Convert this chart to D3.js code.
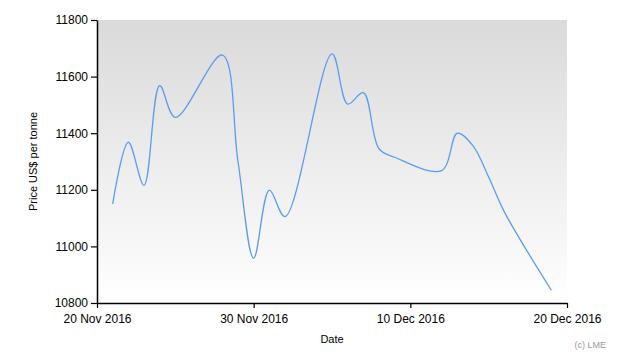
<!DOCTYPE html>
<html>
<head>
<meta charset="utf-8">
<script src="https://cdn.jsdelivr.net/npm/d3@7"></script>
<style>
  html, body { margin: 0; padding: 0; background: #ffffff; }
  svg { display: block; font-family: "Liberation Sans", Arial, sans-serif; }
</style>
</head>
<body>
<svg id="chart" width="630" height="360"></svg>
<script>
// Data (LME trading days)
const dates = [
  "2016-11-21","2016-11-22","2016-11-23","2016-11-24","2016-11-25",
  "2016-11-28","2016-11-29","2016-11-30","2016-12-01","2016-12-02",
  "2016-12-05","2016-12-06","2016-12-07","2016-12-08","2016-12-09",
  "2016-12-12","2016-12-13","2016-12-14","2016-12-15","2016-12-16",
  "2016-12-19"
];
const prices = [
  11150, 11368, 11216, 11568, 11456,
  11676, 11300, 10958, 11199, 11105,
  11680, 11503, 11543, 11345, 11315,
  11268, 11400, 11355, 11245, 11122,
  10845
];
const xTickDates = ["2016-11-20","2016-11-30","2016-12-10","2016-12-20"];
const xTickLabels = ["20 Nov 2016","30 Nov 2016","10 Dec 2016","20 Dec 2016"];
const yTicks = [10800, 11000, 11200, 11400, 11600, 11800];

const parse = d3.utcParse("%Y-%m-%d");
const data = dates.map((d, i) => ({ date: parse(d), value: prices[i] }));

const margin = { left: 97, right: 63, top: 20, bottom: 57 };
const W = 630, H = 360;
const iw = W - margin.left - margin.right;
const ih = H - margin.top - margin.bottom;

const svg = d3.select("#chart");

const x = d3.scaleUtc()
  .domain([parse(xTickDates[0]), parse(xTickDates[xTickDates.length - 1])])
  .range([0, iw]);
const y = d3.scaleLinear().domain([10800, 11800]).range([ih, 0]);

const defs = svg.append("defs");
const grad = defs.append("linearGradient")
  .attr("id", "bg").attr("x1", 0).attr("y1", 0).attr("x2", 0).attr("y2", 1);
grad.append("stop").attr("offset", "0%").attr("stop-color", "#dadada");
grad.append("stop").attr("offset", "100%").attr("stop-color", "#ffffff");

const g = svg.append("g").attr("transform", `translate(${margin.left},${margin.top})`);

g.append("rect").attr("x", 0).attr("y", 0).attr("width", iw).attr("height", ih)
  .attr("fill", "url(#bg)");

const line = d3.line()
  .x(d => x(d.date))
  .y(d => y(d.value))
  .curve(d3.curveCatmullRom.alpha(0.5));

g.append("path").datum(data)
  .attr("d", line)
  .attr("fill", "none")
  .attr("stroke", "#5c9cf0")
  .attr("stroke-width", 1.3);

// Axes
const xAxis = d3.axisBottom(x)
  .tickValues(xTickDates.map(parse))
  .tickFormat((d, i) => xTickLabels[i])
  .tickSize(5).tickSizeOuter(0).tickPadding(6);
const gx = g.append("g").attr("transform", `translate(0,${ih})`).call(xAxis);
gx.selectAll("text").attr("font-size", 12).attr("fill", "#000")
  .attr("font-family", "Liberation Sans, Arial, sans-serif");
gx.select(".domain").attr("stroke", "#000").attr("stroke-width", 1.5);
gx.selectAll(".tick line").attr("stroke", "#000").attr("stroke-width", 1.2);

const yAxis = d3.axisLeft(y)
  .tickValues(yTicks)
  .tickFormat(d3.format("d"))
  .tickSize(6).tickSizeOuter(0).tickPadding(3);
const gy = g.append("g").call(yAxis);
gy.selectAll("text").attr("font-size", 12).attr("fill", "#000")
  .attr("font-family", "Liberation Sans, Arial, sans-serif");
gy.select(".domain").attr("stroke", "#000").attr("stroke-width", 1.5);
gy.selectAll(".tick line").attr("stroke", "#000").attr("stroke-width", 1.2);

// Axis titles
svg.append("text")
  .attr("transform", `translate(37,${margin.top + ih / 2}) rotate(-90)`)
  .attr("text-anchor", "middle")
  .attr("font-size", 11)
  .attr("fill", "#000")
  .text("Price US$ per tonne");

svg.append("text")
  .attr("x", margin.left + iw / 2)
  .attr("y", 343)
  .attr("text-anchor", "middle")
  .attr("font-size", 11)
  .attr("fill", "#000")
  .text("Date");

svg.append("text")
  .attr("x", 606)
  .attr("y", 348)
  .attr("text-anchor", "end")
  .attr("font-size", 9)
  .attr("fill", "#9a9a9a")
  .text("(c) LME");
</script>
</body>
</html>
